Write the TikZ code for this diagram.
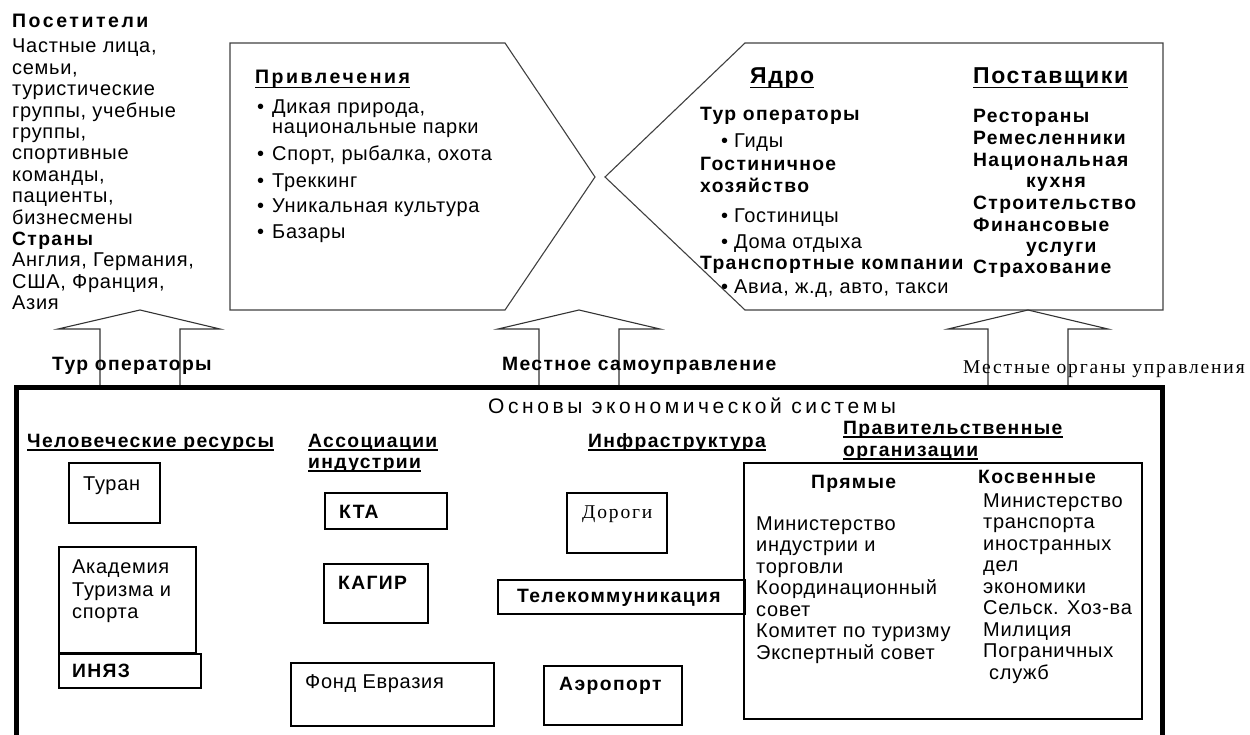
\documentclass[tikz,border=0pt]{standalone}
\usepackage{fontspec}
\setmainfont{Liberation Sans}[LetterSpace=3.5]
\newfontfamily\bfam{Liberation Sans}[LetterSpace=7]
\newfontfamily\hfam{Liberation Sans}[LetterSpace=13]
\newfontfamily\wfam{Liberation Sans}[LetterSpace=17]
\newfontfamily\sfam{Liberation Serif}[LetterSpace=9.5]
\begin{document}
\begin{tikzpicture}[x=1pt,y=-1pt,
  rg/.style={anchor=base west, inner sep=0pt, font=\fontsize{20}{21}\selectfont},
  bd/.style={anchor=base west, inner sep=0pt, font=\bfam\bfseries\fontsize{19.3}{21}\selectfont},
  hd/.style={anchor=base west, inner sep=0pt, font=\hfam\bfseries\fontsize{19.5}{21}\selectfont},
  big/.style={anchor=base west, inner sep=0pt, font=\bfam\bfseries\fontsize{23}{26}\selectfont},
  sr/.style={anchor=base west, inner sep=0pt, font=\sfam\fontsize{19.5}{21}\selectfont},
  ul/.style={line width=1.6pt},
  shp/.style={draw=black!75, line width=1.1pt},
  bx/.style={draw=black, line width=1.1pt},
  arr/.style={draw=black!80, line width=1.1pt},
  frame/.style={draw=black, line width=5pt}
]
\useasboundingbox (0,0) rectangle (1250,735);
\clip (0,0) rectangle (1250,735);

% ---------- visitors ----------
\node[hd] (vtitle) at (12,28) {Посетители};
\foreach \t [count=\i from 0] in {{Частные лица,},{семьи,},{туристические},{группы, учебные},{группы,},{спортивные},{команды,},{пациенты,},{бизнесмены}}
  \node[rg] (vis\i) at (12,53+\i*21.4) {\t};
\node[bd] (countries) at (12,245.6) {Страны};
\foreach \t [count=\i from 0] in {{Англия, Германия,},{США, Франция,},{Азия}}
  \node[rg] (cn\i) at (12,267+\i*21.4) {\t};

% ---------- attractions pentagon ----------
\path[shp] (230,43) -- (505,43) -- (595,177) -- (505,310) -- (230,310) -- cycle;
\node[hd] (attr) at (255,84) {Привлечения};
\draw[ul] ([yshift=-3.5pt]attr.base west) -- ([yshift=-3.5pt]attr.base east);
\foreach \t/\y [count=\i] in {{Дикая природа,}/114,{Спорт, рыбалка, охота}/161,{Треккинг}/188,{Уникальная культура}/213,{Базары}/239}{
  \node[rg] (ab\i) at (257,\y) {•};
  \node[rg] (at\i) at (272,\y) {\t};
}
\node[rg] (at1b) at (272,134) {национальные парки};

% ---------- core / suppliers shape ----------
\path[shp] (745,43) -- (1163,43) -- (1163,310) -- (745,310) -- (605,177) -- cycle;
\node[big] (core) at (750,84) {Ядро};
\draw[ul] ([yshift=-3.5pt]core.base west) -- ([yshift=-3.5pt]core.base east);
\node[big] (supp) at (973,84) {Поставщики};
\draw[ul] ([yshift=-3.5pt]supp.base west) -- ([yshift=-3.5pt]supp.base east);

\node[bd] (c1) at (700,121) {Тур операторы};
\node[rg] (c1b) at (721,148) {•};
\node[rg] (c1t) at (734,148) {Гиды};
\node[bd] (c2) at (700,171) {Гостиничное};
\node[bd] (c2b) at (700,193) {хозяйство};
\node[rg] (c3b) at (721,223) {•};
\node[rg] (c3t) at (734,223) {Гостиницы};
\node[rg] (c4b) at (721,249) {•};
\node[rg] (c4t) at (734,249) {Дома отдыха};
\node[bd] (c5) at (700,270) {Транспортные компании};
\node[rg] (c6b) at (721,294) {•};
\node[rg] (c6t) at (734,294) {Авиа, ж.д, авто, такси};

\node[bd] (s1) at (973,123) {Рестораны};
\node[bd] (s2) at (973,145) {Ремесленники};
\node[bd] (s3) at (973,167) {Национальная};
\node[bd] (s3b) at (1026,188) {кухня};
\node[bd] (s4) at (973,210) {Строительство};
\node[bd] (s5) at (973,232) {Финансовые};
\node[bd] (s5b) at (1026,253) {услуги};
\node[bd] (s6) at (973,274) {Страхование};

% ---------- block arrows ----------
\path[arr] (100,385) -- (100,329) -- (58,329) -- (140,310) -- (220,329) -- (180,329) -- (180,385);
\path[arr] (539,385) -- (539,329) -- (498,329) -- (579,310) -- (660,329) -- (619,329) -- (619,385);
\path[arr] (988,385) -- (988,329) -- (948,329) -- (1028,310) -- (1108,329) -- (1068,329) -- (1068,385);
\node[bd] (l1) at (52,370) {Тур операторы};
\node[bd] (l2) at (502,370) {Местное самоуправление};
\node[sr] (l3) at (963,373) {Местные органы управления};

% ---------- economic system frame ----------
\path[frame] (16,387) rectangle (1162,780);
\node[anchor=base west, inner sep=0pt, font=\wfam\fontsize{21}{24}\selectfont] (eco) at (488,413) {Основы экономической системы};

\node[bd] (h1) at (27,447) {Человеческие ресурсы};
\draw[ul] ([yshift=-3pt]h1.base west) -- ([yshift=-3pt]h1.base east);
\node[bd] (h2) at (308,447) {Ассоциации};
\draw[ul] ([yshift=-3pt]h2.base west) -- ([yshift=-3pt]h2.base east);
\node[bd] (h2b) at (308,468) {индустрии};
\draw[ul] ([yshift=-3pt]h2b.base west) -- ([yshift=-3pt]h2b.base east);
\node[bd] (h3) at (588,447) {Инфраструктура};
\draw[ul] ([yshift=-3pt]h3.base west) -- ([yshift=-3pt]h3.base east);
\node[bd] (h4) at (843,434) {Правительственные};
\draw[ul] ([yshift=-3pt]h4.base west) -- ([yshift=-3pt]h4.base east);
\node[bd] (h4b) at (843,456) {организации};
\draw[ul] ([yshift=-3pt]h4b.base west) -- ([yshift=-3pt]h4b.base east);

% human resources boxes
\path[bx] (69,463) rectangle (160,523);
\node[rg] (turan) at (83,490) {Туран};
\path[bx] (59,547) rectangle (196,653);
\node[rg] (acad1) at (72,573) {Академия};
\node[rg] (acad2) at (72,596) {Туризма и};
\node[rg] (acad3) at (72,618) {спорта};
\path[bx] (59,654) rectangle (201,688);
\node[bd] (inyaz) at (72,677) {ИНЯЗ};

% associations
\path[bx] (325,493) rectangle (447,529);
\node[bd] (kta) at (339,518) {КТА};
\path[bx] (324,564) rectangle (428,623);
\node[bd] (kagir) at (338,589) {КАГИР};
\path[bx] (291,663) rectangle (494,726);
\node[rg] (fond) at (305,688) {Фонд Евразия};

% infrastructure
\path[bx] (567,493) rectangle (667,553);
\node[sr] (roads) at (582,518) {Дороги};
\path[bx] (498,580) rectangle (745,614);
\node[bd] (tele) at (517,602) {Телекоммуникация};
\path[bx] (544,666) rectangle (682,725);
\node[bd] (airport) at (559,690) {Аэропорт};

% government
\path[bx] (744,463) rectangle (1142,719);
\node[bd] (direct) at (811,488) {Прямые};
\foreach \t [count=\i from 0] in {{Министерство},{индустрии и},{торговли},{Координационный},{совет},{Комитет по туризму},{Экспертный совет}}
  \node[rg] (dl\i) at (756,530+\i*21.5) {\t};
\node[bd] (indirect) at (978,483) {Косвенные};
\foreach \t [count=\i from 0] in {{Министерство},{транспорта},{иностранных},{дел},{экономики},{Сельск. Хоз-ва},{Милиция},{Пограничных}}
  \node[rg] (il\i) at (983,507+\i*21.5) {\t};
\node[rg] (il8) at (989,679) {служб};
\end{tikzpicture}
\end{document}
